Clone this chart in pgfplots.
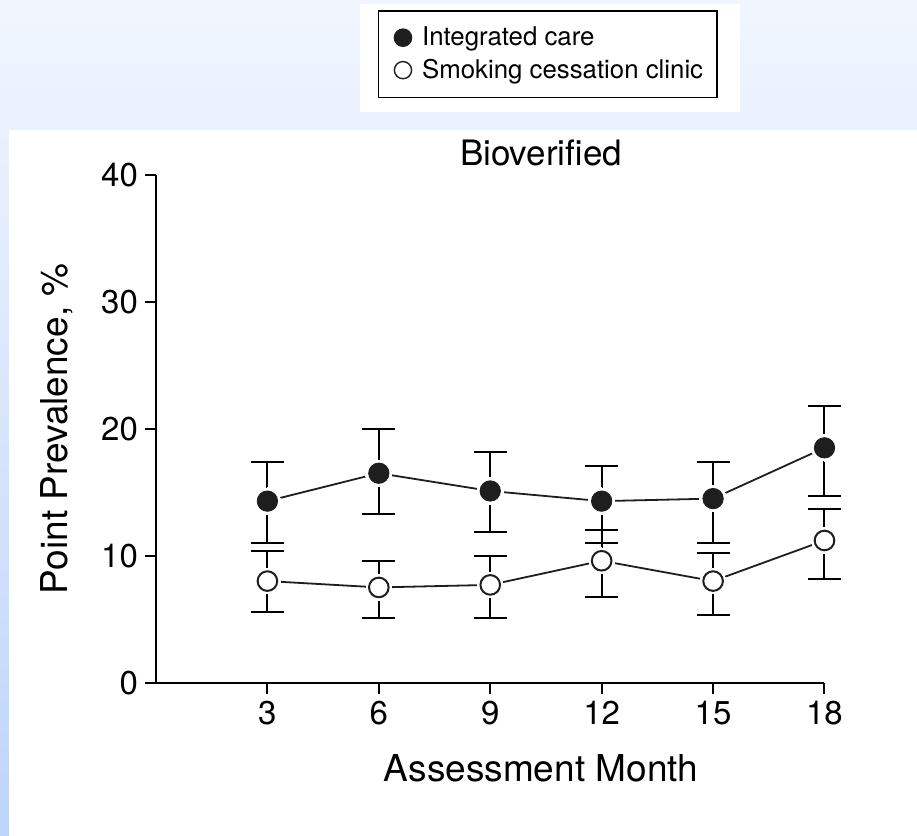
\documentclass[border=0pt]{standalone}
\usepackage{fontspec}
\setmainfont{TeX Gyre Heros}
\usepackage{pgfplots}
\pgfplotsset{compat=1.18}
\definecolor{bgtop}{HTML}{F1F6FE}
\definecolor{bgbot}{HTML}{BDD5FA}
\definecolor{ln}{HTML}{1E1E1E}

\begin{document}
\begin{tikzpicture}
% page background and white panels (1px = 0.5pt, axis origin at px 156,682.6)
\shade[top color=bgtop, bottom color=bgbot] (-78pt,-76.7pt) rectangle (380.5pt,341.3pt);
\fill[white] (-73.5pt,-76.7pt) rectangle (380.5pt,276.3pt);
\fill[white] (102pt,285.3pt) rectangle (292pt,339.3pt);
\begin{axis}[
  at={(0,0)}, anchor=south west,
  scale only axis, width=334.25pt, height=253.8pt,
  xmin=0, xmax=18, ymin=0, ymax=40,
  axis x line*=bottom, axis y line*=left,
  axis line style={line width=1pt, black},
  xtick={3,6,...,18}, ytick={0,10,...,40},
  tick align=outside, major tick length=5.5pt,
  tick style={line width=1pt, black},
  tick label style={font=\fontsize{16.5}{18}\selectfont},
  /pgf/number format/assume math mode=true,
  title=Bioverified,
  title style={at={(axis description cs:0.576,1.0217)}, anchor=base, yshift=-7pt, font=\fontsize{17.5}{20}\selectfont},
  xlabel=Assessment Month,
  xlabel style={at={(axis description cs:0.576,-0.1958)}, anchor=base, font=\fontsize{18.5}{21}\selectfont},
  ylabel={Point Prevalence, \%},
  ylabel style={at={(axis description cs:-0.1331,0.5)}, anchor=base, font=\fontsize{18.5}{21}\selectfont},
  clip=false,
  legend style={at={(axis description cs:0.332,1.325)}, anchor=north west, draw=black, line width=0.75pt,
    fill=white, font=\fontsize{12.9}{15}\selectfont, inner xsep=5pt, inner ysep=6pt, row sep=1.2pt},
  legend cell align=left,
  legend image code/.code={
    \path (-2.5pt,0pt) (0.15cm+7.2pt,0pt);
    \draw[#1, mark size=4.3pt, every mark/.append style={line width=0.7pt}] plot coordinates {(0.15cm,0cm)};},
]
% Integrated care
\addplot[ln, line width=0.9pt, forget plot, error bars/.cd, y dir=both, y explicit,
  error bar style={line width=1pt, black}, error mark options={rotate=90, line width=1pt, mark size=8.25pt, black}]
  coordinates {
  (3,14.3) += (0,3.1) -= (0,3.3)
  (6,16.5) += (0,3.5) -= (0,3.2)
  (9,15.1) += (0,3.1) -= (0,3.2)
  (12,14.3) += (0,2.8) -= (0,3.3)
  (15,14.5) += (0,2.9) -= (0,3.5)
  (18,18.5) += (0,3.3) -= (0,3.8)
};
% Smoking cessation clinic
\addplot[ln, line width=0.9pt, forget plot, error bars/.cd, y dir=both, y explicit,
  error bar style={line width=1pt, black}, error mark options={rotate=90, line width=1pt, mark size=8.25pt, black}]
  coordinates {
  (3,8.0) += (0,2.4) -= (0,2.4)
  (6,7.5) += (0,2.1) -= (0,2.4)
  (9,7.7) += (0,2.3) -= (0,2.6)
  (12,9.6) += (0,2.4) -= (0,2.85)
  (15,8.0) += (0,2.2) -= (0,2.7)
  (18,11.2) += (0,2.5) -= (0,3.0)
};
% white halos
\addplot[only marks, mark=*, mark size=6.6pt, mark options={draw=white, fill=white, line width=0pt}, forget plot]
  coordinates {(3,14.3) (6,16.5) (9,15.1) (12,14.3) (15,14.5) (18,18.5)};
\addplot[only marks, mark=*, mark size=6.4pt, mark options={draw=white, fill=white, line width=0pt}, forget plot]
  coordinates {(3,8.0) (6,7.5) (9,7.7) (12,9.6) (15,8.0) (18,11.2)};
% markers
\addplot[only marks, mark=*, mark size=5.1pt, mark options={draw=ln, fill=ln, line width=0.4pt}]
  coordinates {(3,14.3) (6,16.5) (9,15.1) (12,14.3) (15,14.5) (18,18.5)};
\addlegendentry{Integrated care}
\addplot[only marks, mark=*, mark size=4.9pt, mark options={draw=ln, fill=white, line width=1pt}]
  coordinates {(3,8.0) (6,7.5) (9,7.7) (12,9.6) (15,8.0) (18,11.2)};
\addlegendentry{Smoking cessation clinic}
\end{axis}
\end{tikzpicture}
\end{document}
